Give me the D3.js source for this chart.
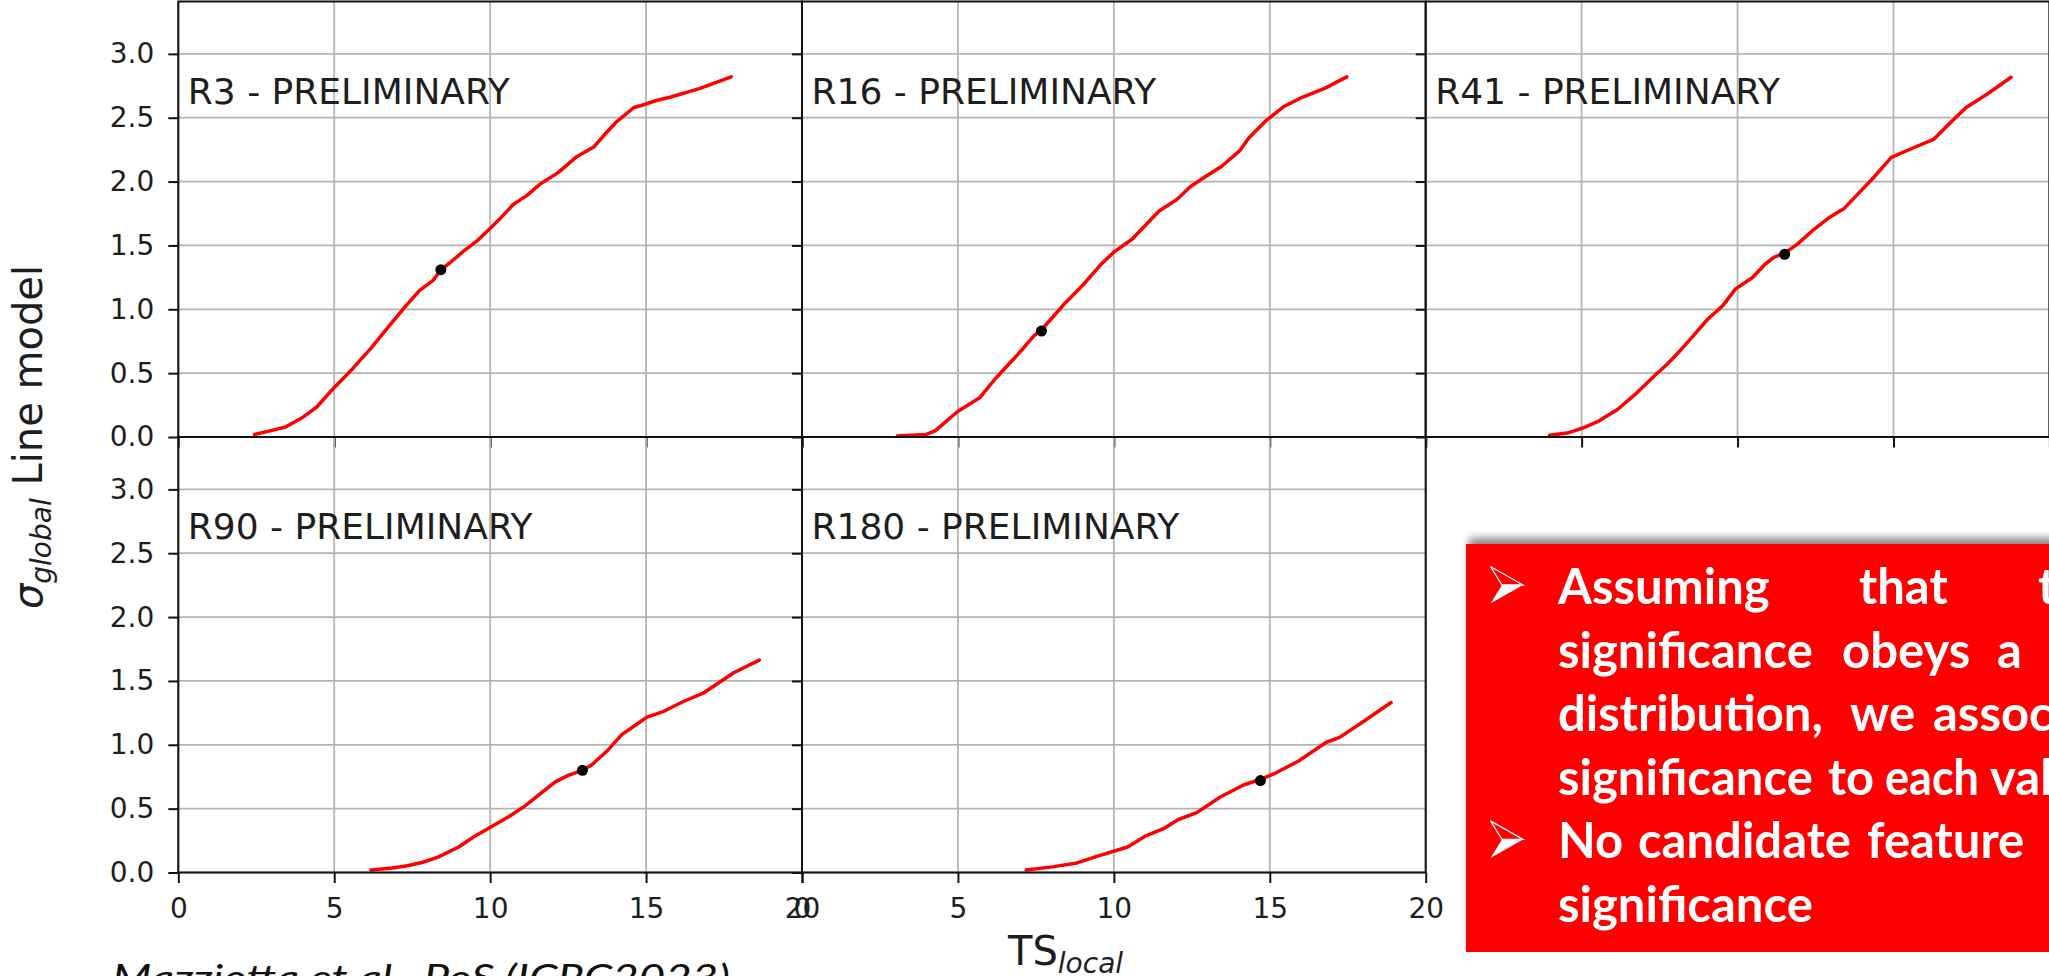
<!DOCTYPE html>
<html>
<head>
<meta charset="utf-8">
<script src="https://cdn.jsdelivr.net/npm/d3@7"></script>
<style>
  body { margin: 0; background: #fff; overflow: hidden; }
  svg { display: block; }
</style>
</head>
<body>
<svg id="chart" width="2049" height="976"></svg>
<script>
// ---- data ----
const panelNames = ["R3", "R16", "R41", "R90", "R180"];
const tsTicks = [0, 5, 10, 15, 20];
const sigmaTicks = [0, 0.5, 1, 1.5, 2, 2.5, 3];

const r3Ts = [2.44, 2.87, 3.44, 4.01, 4.44, 5.01, 5.59, 6.16, 6.73, 7.31, 7.74, 8.17, 8.42, 8.74, 9.17, 9.6, 10.03, 10.32, 10.74, 11.17, 11.6, 12.18, 12.75, 13.32, 13.75, 14.04, 14.61, 14.9, 15.33, 15.76, 16.33, 16.73, 17.73];
const r3Sigma = [0.02, 0.044, 0.078, 0.157, 0.235, 0.39, 0.535, 0.69, 0.86, 1.03, 1.148, 1.226, 1.31, 1.37, 1.46, 1.54, 1.64, 1.71, 1.82, 1.89, 1.98, 2.07, 2.19, 2.27, 2.39, 2.465, 2.58, 2.6, 2.635, 2.66, 2.7, 2.73, 2.82];

const r16Ts = [3.06, 3.99, 4.28, 4.99, 5.71, 6.21, 6.86, 7.43, 7.68, 8.01, 8.44, 9.01, 9.58, 10.01, 10.59, 11.02, 11.45, 12.02, 12.45, 12.88, 13.46, 14.03, 14.32, 14.89, 15.47, 16.04, 16.76, 17.47];
const r16Sigma = [0.008, 0.02, 0.05, 0.2, 0.31, 0.46, 0.63, 0.79, 0.84, 0.93, 1.05, 1.19, 1.35, 1.45, 1.55, 1.66, 1.77, 1.86, 1.96, 2.03, 2.12, 2.24, 2.34, 2.48, 2.59, 2.66, 2.73, 2.82];

const r41Ts = [3.97, 4.59, 5.07, 5.55, 6.16, 6.78, 7.33, 7.74, 8.15, 8.63, 9.04, 9.52, 9.93, 10.48, 10.89, 11.16, 11.51, 11.92, 12.4, 12.95, 13.42, 13.77, 14.32, 14.93, 15.55, 16.3, 16.78, 17.33, 18.01, 18.77];
const r41Sigma = [0.013, 0.034, 0.073, 0.125, 0.217, 0.348, 0.478, 0.57, 0.674, 0.805, 0.922, 1.027, 1.158, 1.249, 1.354, 1.406, 1.44, 1.51, 1.615, 1.72, 1.79, 1.88, 2.02, 2.19, 2.255, 2.333, 2.45, 2.58, 2.686, 2.817];

const r90Ts = [6.18, 6.86, 7.35, 7.84, 8.33, 8.99, 9.48, 10.05, 10.62, 11.11, 11.6, 12.09, 12.5, 12.96, 13.24, 13.73, 14.22, 14.79, 15.03, 15.52, 16.18, 16.83, 17.32, 17.81, 18.63];
const r90Sigma = [0.019, 0.035, 0.053, 0.08, 0.12, 0.2, 0.28, 0.36, 0.44, 0.52, 0.615, 0.71, 0.76, 0.8, 0.84, 0.947, 1.08, 1.176, 1.217, 1.257, 1.337, 1.404, 1.484, 1.564, 1.663];

const r180Ts = [7.19, 8.08, 8.82, 9.56, 10.44, 11.03, 11.63, 12.07, 12.66, 13.4, 14.14, 14.7, 15.17, 15.91, 16.8, 17.24, 17.98, 18.89];
const r180Sigma = [0.019, 0.046, 0.075, 0.134, 0.2, 0.287, 0.348, 0.415, 0.469, 0.589, 0.683, 0.73, 0.777, 0.871, 1.018, 1.058, 1.179, 1.331];

// observed value of each region (black dot)
const markerTs = [8.42, 7.68, 11.51, 12.96, 14.7];
const markerSigma = [1.31, 0.83, 1.43, 0.8, 0.72];

const noteLines = [
  ["Assuming", "that", "the"],
  ["significance", "obeys", "a"],
  ["distribution,", "we", "associate"],
  ["significance", "to", "each", "value"],
  ["No", "candidate", "feature"],
  ["significance"]
];
const citation = "Mazziotta et al., PoS (ICRC2023)";

// ---- layout ----
const svg = d3.select("#chart");
const plotLeft = 178.3, plotTop = 1.5;
const panelW = 623.7, panelH = 435.5;
const panelRows = [0, 0, 0, 1, 1];
const panelCols = [0, 1, 2, 0, 1];
const series = [[r3Ts, r3Sigma], [r16Ts, r16Sigma], [r41Ts, r41Sigma], [r90Ts, r90Sigma], [r180Ts, r180Sigma]];

const x = d3.scaleLinear().domain([0, 20]).range([0, panelW]);
const y = d3.scaleLinear().domain([0, 3.41]).range([panelH, 0]);

const line = d3.line()
  .x(d => x(d[0]))
  .y(d => y(d[1]));

function drawPanel(i) {
  const row = panelRows[i], col = panelCols[i];
  const g = svg.append("g")
    .attr("transform", `translate(${plotLeft + col * panelW},${plotTop + row * panelH})`);

  // grid
  g.selectAll(".gx").data(tsTicks).enter().append("line")
    .attr("x1", d => x(d)).attr("x2", d => x(d))
    .attr("y1", 0).attr("y2", panelH)
    .attr("stroke", "#b4b4b4").attr("stroke-width", 1.8);
  g.selectAll(".gy").data(sigmaTicks).enter().append("line")
    .attr("x1", 0).attr("x2", panelW)
    .attr("y1", d => y(d)).attr("y2", d => y(d))
    .attr("stroke", "#b4b4b4").attr("stroke-width", 1.8);

  const [ts, sig] = series[i];
  g.append("path")
    .datum(d3.zip(ts, sig))
    .attr("d", line)
    .attr("fill", "none")
    .attr("stroke", "#ff0000")
    .attr("stroke-width", 3.5)
    .attr("stroke-linejoin", "round")
    .attr("stroke-linecap", "round");

  g.append("circle")
    .attr("cx", x(markerTs[i]))
    .attr("cy", y(markerSigma[i]))
    .attr("r", 5.5)
    .attr("fill", "#000");

  // spines
  g.append("rect")
    .attr("width", panelW).attr("height", panelH)
    .attr("fill", "none").attr("stroke", "#111").attr("stroke-width", 2);

  const xAxis = d3.axisBottom(x).tickValues(tsTicks).tickSize(10.5).tickPadding(15)
    .tickFormat(row === 1 ? d3.format("d") : () => "");
  const yAxis = d3.axisLeft(y).tickValues(sigmaTicks).tickSize(10).tickPadding(14)
    .tickFormat(col === 0 ? d3.format(".1f") : () => "");

  const gx = g.append("g").attr("transform", `translate(0,${panelH})`).call(xAxis);
  const gy = g.append("g").call(yAxis);
  [gx, gy].forEach(a => {
    a.select(".domain").remove();
    a.selectAll("line").attr("stroke", "#111").attr("stroke-width", 2);
    a.selectAll("text")
      .attr("fill", "#1e1e1e")
      .style("font-family", "'DejaVu Sans'")
      .style("font-size", "28px");
  });

  g.append("text")
    .attr("x", 9.5)
    .attr("y", 102)
    .style("font-family", "'DejaVu Sans'")
    .style("font-size", "36px")
    .attr("fill", "#1e1e1e")
    .text(`${panelNames[i]} - PRELIMINARY`);
}

panelNames.forEach((d, i) => drawPanel(i));

// axis labels
const yLabel = svg.append("text")
  .attr("transform", `translate(42,${plotTop + panelH}) rotate(-90)`)
  .attr("text-anchor", "middle")
  .style("font-family", "'DejaVu Sans'")
  .style("font-size", "40px")
  .attr("fill", "#1e1e1e");
yLabel.append("tspan").style("font-style", "italic").text("σ");
yLabel.append("tspan").style("font-style", "italic").style("font-size", "28px").attr("dy", 9).text("global");
yLabel.append("tspan").attr("dy", -9).text(" Line model");

const xLabel = svg.append("text")
  .attr("x", 1008)
  .attr("y", 965)
  .style("font-family", "'DejaVu Sans'")
  .style("font-size", "40px")
  .attr("fill", "#1e1e1e");
xLabel.append("tspan").text("TS");
xLabel.append("tspan").style("font-style", "italic").style("font-size", "28px").attr("dy", 8).text("local");

svg.append("text")
  .attr("x", 112)
  .attr("y", 991)
  .attr("textLength", 618)
  .attr("lengthAdjust", "spacingAndGlyphs")
  .style("font-family", "Lato")
  .style("font-style", "italic")
  .style("font-size", "37px")
  .attr("fill", "#111")
  .text(citation);

// red note box
const defs = svg.append("defs");
const shadow = defs.append("filter").attr("id", "shadow")
  .attr("x", "-5%").attr("y", "-10%").attr("width", "110%").attr("height", "120%");
shadow.append("feDropShadow")
  .attr("dx", 3).attr("dy", -6).attr("stdDeviation", 4)
  .attr("flood-color", "#555").attr("flood-opacity", 0.7);

const box = svg.append("g");
box.append("rect")
  .attr("x", 1466).attr("y", 544)
  .attr("width", 640).attr("height", 408)
  .attr("fill", "#ff0000")
  .attr("filter", "url(#shadow)");

// justified slide text: word start positions
const wordX = [
  [1558, 1859, 2038],
  [1558, 1842, 1997],
  [1558, 1850, 1933],
  [1558, 1828, 1885, 1990],
  [1558, 1638, 1867],
  [1558]
];
const lineBase = 604, lineStep = 63.6;

noteLines.forEach((words, li) => {
  const t = box.append("text")
    .attr("y", lineBase + li * lineStep)
    .style("font-family", "Lato")
    .style("font-weight", "bold")
    .style("font-size", "49px")
    .attr("fill", "#fff");
  words.forEach((w, wi) => {
    const span = t.append("tspan").attr("x", wordX[li][wi]).text(w);
    // squeeze a word a little if it would run into the next one
    if (wi < words.length - 1) {
      const room = wordX[li][wi + 1] - wordX[li][wi] - 11;
      if (span.node().getComputedTextLength() > room) {
        span.attr("textLength", room).attr("lengthAdjust", "spacingAndGlyphs");
      }
    }
  });
});

// arrow bullets on the first and fifth lines
[0, 4].forEach(li => {
  const b = lineBase + li * lineStep;
  box.append("path")
    .attr("d", `M1490.5,${b - 37.5} L1523,${b - 19} L1502,${b - 19} Z`)
    .attr("fill", "none").attr("stroke", "#fff").attr("stroke-width", 1.3);
  box.append("path")
    .attr("d", `M1502,${b - 19} L1523,${b - 19} L1490.5,${b - 0.5} Z`)
    .attr("fill", "#fff");
});
</script>
</body>
</html>
